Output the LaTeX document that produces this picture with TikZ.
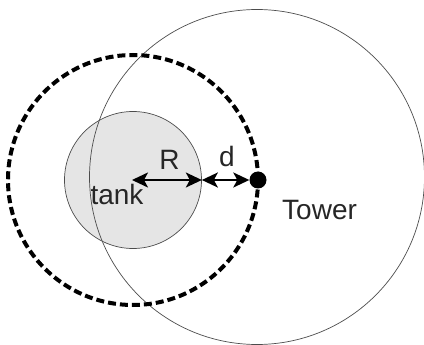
\documentclass[tikz,border=0pt]{standalone}
\usepackage{fontspec}
\setmainfont{Liberation Sans}
\usepackage{tikz}
\usetikzlibrary{arrows.meta,positioning,calc}
\tikzset{
  ring/.style    ={circle,draw=black!70,line width=0.7pt,inner sep=0pt},
  tankdisk/.style={ring,fill=gray!20,minimum size=137pt},
  towerring/.style={ring,minimum size=335pt},
  reach/.style   ={circle,draw=black,line width=4pt,dash pattern=on 8pt off 4pt,inner sep=0pt,minimum size=250pt},
  towerdot/.style={circle,fill=black,minimum size=17pt,inner sep=0pt},
  measure/.style ={line width=2pt,>={Stealth[length=16pt,width=15pt,inset=4pt]},<->},
  lbl/.style     ={inner sep=0pt,font=\fontsize{28}{30}\selectfont,text=black!85},
}
\begin{document}
\begin{tikzpicture}[x=1pt,y=-1pt]
  \useasboundingbox (0,0) rectangle (424,345);
  \coordinate (centre) at (132,180);
  \node[tankdisk] (tank) at (133,180){};
  \node[towerring] (range) at (257,177){};
  \node[reach] (safe) at (133,180){};
  \node[towerdot] (tower) at (258,180){};
  % radius and distance
  \draw[measure] (centre)--(tank.east);
  \draw[measure] (tank.east)--(tower);
  \node[lbl,anchor=base] (rlabel) at (169.5,170){R};
  \node[lbl,anchor=base] (dlabel) at (227,167){d};
  \node[lbl,anchor=base] (tanklabel) at (117,205){tank};
  \node[lbl,anchor=base west] (towerlabel) at (282,220){Tower};
\end{tikzpicture}
\end{document}
